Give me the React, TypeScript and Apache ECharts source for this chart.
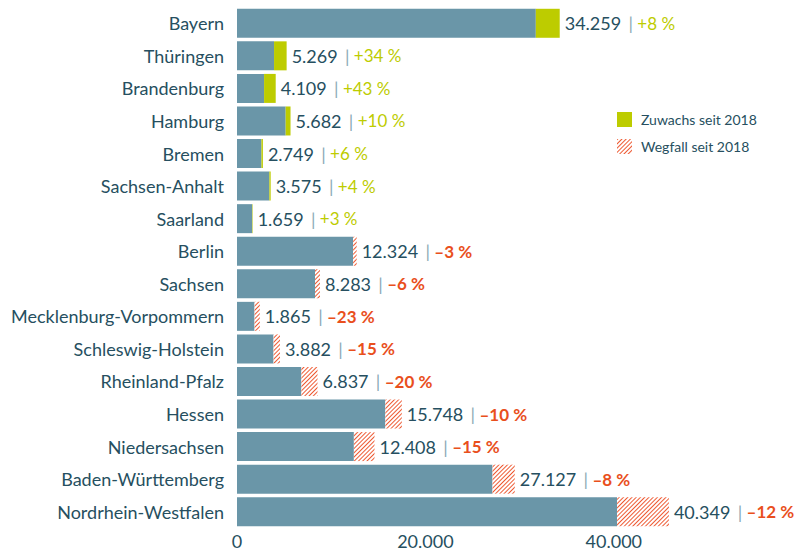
import React, { useEffect, useRef } from "react";
import * as echarts from "echarts";

const states = [
  "Bayern",
  "Thüringen",
  "Brandenburg",
  "Hamburg",
  "Bremen",
  "Sachsen-Anhalt",
  "Saarland",
  "Berlin",
  "Sachsen",
  "Mecklenburg-Vorpommern",
  "Schleswig-Holstein",
  "Rheinland-Pfalz",
  "Hessen",
  "Niedersachsen",
  "Baden-Württemberg",
  "Nordrhein-Westfalen",
];
const currentValues = [
  34259, 5269, 4109, 5682, 2749, 3575, 1659, 12324, 8283, 1865, 3882, 6837, 15748, 12408, 27127, 40349,
];
const changePct = [8, 34, 43, 10, 6, 4, 3, -3, -6, -23, -15, -20, -10, -15, -8, -12];
const xTicks = [0, 20000, 40000];
const legendNames = ["Zuwachs seit 2018", "Wegfall seit 2018"];

const FONT = "Lato";
const DARK = "#264f60";
const TEAL = "#6a96a8";
const GREEN = "#bdcc00";
const RED = "#e94f1d";

const fmt = (n: number) => String(Math.round(n)).replace(/\B(?=(\d{3})+(?!\d))/g, ".");

export default function App() {
  const ref = useRef<HTMLDivElement>(null);
  useEffect(() => {
    const chart = echarts.init(ref.current!, null, { renderer: "svg" });
    const base = currentValues.map((v, i) => (changePct[i] > 0 ? v / (1 + changePct[i] / 100) : v));
    const growth = currentValues.map((v, i) => (changePct[i] > 0 ? v - base[i] : 0));
    const loss = currentValues.map((v, i) => (changePct[i] < 0 ? v / (1 + changePct[i] / 100) - v : 0));
    const labelData = currentValues.map(() => 0);

    chart.setOption({
      animation: false,
      grid: { left: 237, right: 87, top: 7, bottom: 23 },
      legend: {
        data: legendNames,
        orient: "vertical",
        left: 612,
        top: 107,
        itemWidth: 15,
        itemHeight: 15,
        itemGap: 12,
        icon: "rect",
        textStyle: { fontFamily: FONT, fontSize: 14, color: DARK, padding: [0, 0, 0, 4] },
      },
      xAxis: {
        type: "value",
        min: 0,
        max: 50000,
        interval: 20000,
        axisLine: { show: false },
        axisTick: { show: false },
        splitLine: { show: false },
        axisLabel: {
          fontFamily: FONT,
          fontSize: 18,
          lineHeight: 16,
          color: DARK,
          margin: 5,
          formatter: (v: number) => (xTicks.includes(v) ? fmt(v) : ""),
        },
      },
      yAxis: {
        type: "category",
        inverse: true,
        data: states,
        axisLine: { show: false },
        axisTick: { show: false },
        axisLabel: { fontFamily: FONT, fontSize: 18, color: DARK, margin: 13 },
      },
      series: [
        {
          name: "Bestand",
          type: "bar",
          stack: "t",
          data: base,
          barWidth: 29,
          itemStyle: { color: TEAL },
        },
        {
          name: legendNames[0],
          type: "bar",
          stack: "t",
          data: growth,
          barWidth: 29,
          itemStyle: { color: GREEN },
        },
        {
          name: legendNames[1],
          type: "bar",
          stack: "t",
          data: loss,
          barWidth: 29,
          itemStyle: {
            color: "#ffffff",
            decal: {
              symbol: "rect",
              symbolSize: 1,
              color: "#ee5a33",
              dashArrayX: [1, 0],
              dashArrayY: [1, 2],
              rotation: -Math.PI / 4,
            },
          },
        },
        {
          name: "labels",
          type: "bar",
          stack: "t",
          data: labelData,
          barWidth: 29,
          itemStyle: { color: "transparent" },
          label: {
            show: true,
            position: "right",
            distance: 5,
            formatter: (p: any) => {
              const i = p.dataIndex;
              const pc = changePct[i];
              const pctTxt = pc > 0 ? `{g|+${pc} %}` : `{r|–${Math.abs(pc)} %}`;
              return `{v|${fmt(currentValues[i])}} {s||} ${pctTxt}`;
            },
            rich: {
              v: { fontFamily: FONT, fontSize: 18, color: DARK },
              s: { fontFamily: FONT, fontSize: 18, color: "#8aa9b6", padding: [0, 1, 0, 4] },
              g: { fontFamily: FONT, fontSize: 17, color: GREEN },
              r: { fontFamily: FONT, fontSize: 17, color: RED, fontWeight: "bold" },
            },
          },
        },
      ],
    });
    return () => chart.dispose();
  }, []);
  return (
    <div
      ref={ref}
      style={{ position: "fixed", left: 0, top: 0, width: 795, height: 551, background: "#fff" }}
    />
  );
}
